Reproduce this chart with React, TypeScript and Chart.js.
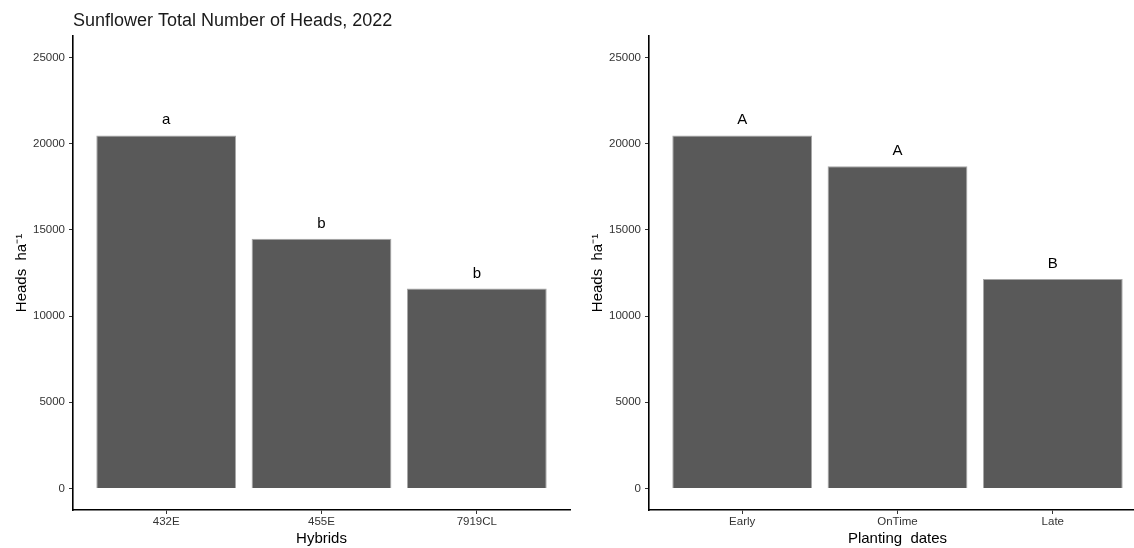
import React, { useEffect, useRef } from "react";
import { Chart, registerables } from "chart.js";

Chart.register(...registerables);

const TITLE = "Sunflower Total Number of Heads, 2022";
const Y_TITLE = "Heads  ha\u207B\u00B9";

const hybrids = ["432E", "455E", "7919CL"];
const hybridHeads = [20480, 14480, 11600];
const hybridLetters = ["a", "b", "b"];

const dates = ["Early", "OnTime", "Late"];
const dateHeads = [20480, 18700, 12150];
const dateLetters = ["A", "A", "B"];

const yTicks = [0, 5000, 10000, 15000, 20000, 25000];
const Y_MIN = -1250;
const Y_MAX = 26250;

const FAMILY = "'Liberation Sans', Arial, Helvetica, sans-serif";

type PanelProps = {
  categories: string[];
  values: number[];
  letters: string[];
  xTitle: string;
  title?: string;
  left: number;
  width: number;
  rightPad: number;
};

function Panel({ categories, values, letters, xTitle, title, left, width, rightPad }: PanelProps) {
  const ref = useRef<HTMLCanvasElement | null>(null);

  useEffect(() => {
    const canvas = ref.current;
    if (!canvas) return;

    const annot = {
      id: "annot",
      afterDatasetsDraw(chart: any) {
        const ctx = chart.ctx;
        const meta = chart.getDatasetMeta(0);
        ctx.save();
        ctx.font = `15px ${FAMILY}`;
        ctx.fillStyle = "#000";
        ctx.textAlign = "center";
        ctx.textBaseline = "alphabetic";
        meta.data.forEach((bar: any, i: number) => {
          ctx.fillText(letters[i], bar.x, bar.y - 11);
        });
        if (title) {
          ctx.font = `18px ${FAMILY}`;
          ctx.fillStyle = "#1a1a1a";
          ctx.textAlign = "left";
          ctx.fillText(title, chart.chartArea.left, 25.5);
        }
        ctx.restore();
      },
    };

    const chart = new Chart(canvas, {
      type: "bar",
      data: {
        datasets: [
          {
            data: values.map((v, i) => ({ x: i + 1, y: v })),
            backgroundColor: "#595959",
            borderColor: "#a6a6a6",
            borderWidth: 1,
            barPercentage: 0.9,
            categoryPercentage: 1,
          },
        ],
      },
      options: {
        animation: false,
        responsive: false,
        maintainAspectRatio: false,
        devicePixelRatio: 1,
        layout: { padding: { top: 36, left: 0, right: rightPad, bottom: 0 } },
        plugins: {
          legend: { display: false },
          tooltip: { enabled: false },
          title: { display: false },
        },
        scales: {
          x: {
            type: "linear",
            min: 0.4,
            max: 3.6,
            offset: false,
            afterBuildTicks: (s: any) => {
              s.ticks = categories.map((_, i) => ({ value: i + 1 }));
            },
            afterFit: (s: any) => {
              s.height = 38;
            },
            grid: {
              display: true,
              drawOnChartArea: false,
              drawTicks: true,
              tickLength: 4,
              color: "#333",
              offset: false,
            },
            border: { display: true, color: "#000", width: 1.6 },
            ticks: {
              callback: (v: any) => categories[Math.round(Number(v)) - 1] ?? "",
              font: { family: FAMILY, size: 11.5 },
              color: "#333",
              padding: 1,
              autoSkip: false,
              maxRotation: 0,
            },
            title: {
              display: true,
              text: xTitle,
              font: { family: FAMILY, size: 15 },
              color: "#000",
              padding: { top: 0, bottom: 0 },
            },
          },
          y: {
            type: "linear",
            min: Y_MIN,
            max: Y_MAX,
            afterBuildTicks: (s: any) => {
              s.ticks = yTicks.map((v) => ({ value: v }));
            },
            afterFit: (s: any) => {
              s.width = 73;
            },
            grid: {
              display: true,
              drawOnChartArea: false,
              drawTicks: true,
              tickLength: 4,
              color: "#333",
            },
            border: { display: true, color: "#000", width: 1.6 },
            ticks: {
              callback: (v: any) => String(v),
              font: { family: FAMILY, size: 11.5 },
              color: "#333",
              padding: 4,
            },
            title: {
              display: true,
              text: Y_TITLE,
              font: { family: FAMILY, size: 15 },
              color: "#000",
              padding: { top: 13, bottom: 0 },
            },
          },
        },
      },
      plugins: [annot],
    } as any);

    return () => {
      chart.destroy();
    };
  }, []);

  return (
    <canvas
      ref={ref}
      width={width}
      height={548}
      style={{ position: "absolute", left, top: 0, width, height: 548 }}
    />
  );
}

export default function App() {
  return (
    <div
      style={{
        position: "fixed",
        left: 0,
        top: 0,
        width: 1134,
        height: 548,
        background: "#fff",
        overflow: "hidden",
      }}
    >
      <Panel
        categories={hybrids}
        values={hybridHeads}
        letters={hybridLetters}
        xTitle="Hybrids"
        title={TITLE}
        left={0}
        width={576}
        rightPad={6}
      />
      <Panel
        categories={dates}
        values={dateHeads}
        letters={dateLetters}
        xTitle="Planting  dates"
        left={576}
        width={576}
        rightPad={6}
      />
    </div>
  );
}
